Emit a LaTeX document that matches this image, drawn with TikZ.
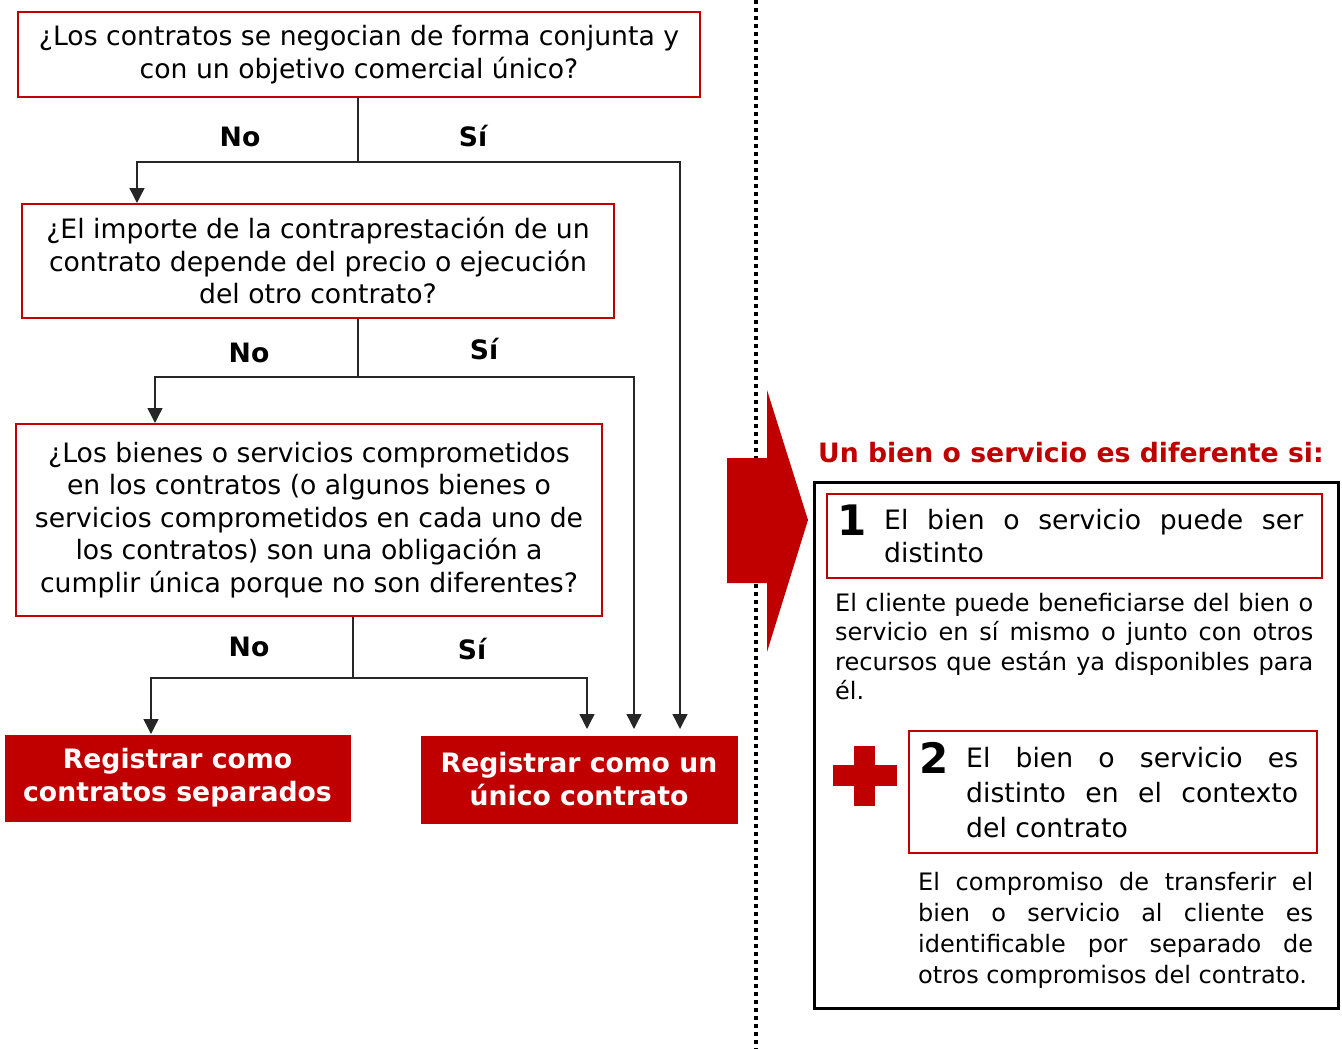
\documentclass[tikz,border=0pt]{standalone}
\usepackage{fontspec}
\setmainfont{DejaVu Sans}
\usepackage{tikz}
\usetikzlibrary{arrows.meta}
\definecolor{boxred}{RGB}{192,0,0}
\newcommand{\jline}[2]{\makebox[#1pt][s]{#2}}

\begin{document}
\begin{tikzpicture}[x=1pt, y=-1pt, >={Triangle[length=15pt,width=15pt]},
    qbox/.style={draw=boxred, line width=2pt, fill=white, align=center, inner sep=0pt,
        font=\fontsize{26.67}{32.5}\selectfont},
    resbox/.style={fill=boxred, draw=boxred, text=white, align=center, inner sep=0pt,
        font=\bfseries\fontsize{26.67}{33}\selectfont},
    lab/.style={font=\bfseries\fontsize{26.67}{32}\selectfont},
    conn/.style={line width=1.4pt, draw=black!85},
    critbox/.style={draw=boxred, line width=2pt, inner sep=0pt},
    num/.style={font=\bfseries\fontsize{42}{42}\selectfont, inner sep=0pt},
    crittext/.style={anchor=west, align=left, inner sep=0pt},
    paratext/.style={anchor=west, align=left, inner sep=0pt}]

    \useasboundingbox (0,0) rectangle (1342,1049);

    % Question boxes
    \node[qbox, minimum width=682, minimum height=85] (q1) at (359,54.5)
        {¿Los contratos se negocian de forma conjunta y\\con un objetivo comercial único?};
    \node[qbox, minimum width=592, minimum height=114] (q2) at (318,261)
        {¿El importe de la contraprestación de un\\contrato depende del precio o ejecución\\del otro contrato?};
    \node[qbox, minimum width=586, minimum height=192] (q3) at (309,520)
        {¿Los bienes o servicios comprometidos\\en los contratos (o algunos bienes o\\servicios comprometidos en cada uno de\\los contratos) son una obligación a\\cumplir única porque no son diferentes?};

    % Result boxes
    \node[resbox, minimum width=345, minimum height=86] (sep) at (177.5,778)
        {Registrar como\\contratos separados};
    \node[resbox, minimum width=316, minimum height=87] (uni) at (579,779.5)
        {Registrar como un\\único contrato};

    % Junctions and arrow ends
    \coordinate (j1) at (358,162);
    \coordinate (j2) at (358,377);
    \coordinate (j3) at (353,678);
    \coordinate (q2in) at (137,203);
    \coordinate (q3in) at (155,423);
    \coordinate (sepin) at (151,734);
    \coordinate (uniin1) at (587,729);
    \coordinate (uniin2) at (634,729);
    \coordinate (uniin3) at (680,729);

    % Arrows
    \foreach \q/\j/\l/\r in {q1/j1/q2in/uniin3, q2/j2/q3in/uniin2, q3/j3/sepin/uniin1} {
        \draw[conn] (\q.south -| \j) -- (\j);
        \draw[conn,->] (\j) -| (\l);
        \draw[conn,->] (\j) -| (\r);
    }

    % No / Si labels
    \foreach \name/\x/\y [count=\i] in {No/240/137, Sí/473/136, No/249/353,
                                        Sí/484/349, No/249/647, Sí/472/649} {
        \node[lab] (lab-\i) at (\x,\y) {\name};
    }

    % Divider
    \coordinate (divtop) at (756,0);
    \coordinate (divbot) at (756,1049);
    \draw[line width=4pt, dash pattern=on 4pt off 4pt] (divtop) -- (divbot);

    % Big arrow
    \fill[boxred] (727,458) -- (767,458) -- (767,390) -- (808,520)
        -- (767,652) -- (767,583) -- (727,583) -- cycle;

    % Criteria
    \node[anchor=west, inner sep=0pt, text=boxred, font=\bfseries\fontsize{26.67}{32}\selectfont]
        (title) at (818,453) {Un bien o servicio es diferente si:};
    \node[draw, line width=3pt, minimum width=524, minimum height=526, inner sep=0pt]
        (crit) at (1076,745) {};

    \node[critbox, minimum width=495, minimum height=84] (c1) at (1074.5,536) {};
    \node[num] (n1) at (852,520) {1};
    \node[crittext, font=\fontsize{26.67}{33}\selectfont] (t1) at (884,536.5)
        {\jline{419}{El bien o servicio puede ser}\\distinto};
    \node[paratext, font=\fontsize{24}{29.2}\selectfont] (p1) at (835,646.5)
        {\jline{478}{El cliente puede beneficiarse del bien o}\\
         \jline{478}{servicio en sí mismo o junto con otros}\\
         \jline{478}{recursos que están ya disponibles para}\\él.};

    % Plus sign
    \fill[boxred] (854,746) rectangle (875,806);
    \fill[boxred] (833,765) rectangle (897,786);

    \node[critbox, minimum width=408, minimum height=122] (c2) at (1113,792) {};
    \node[num] (n2) at (934,758) {2};
    \node[crittext, font=\fontsize{26.67}{35}\selectfont] (t2) at (966,793)
        {\jline{332}{El bien o servicio es}\\
         \jline{332}{distinto en el contexto}\\del contrato};
    \node[paratext, font=\fontsize{24}{31}\selectfont] (p2) at (918,930.5)
        {\jline{395}{El compromiso de transferir el}\\
         \jline{395}{bien o servicio al cliente es}\\
         \jline{395}{identificable por separado de}\\otros compromisos del contrato.};
\end{tikzpicture}
\end{document}
